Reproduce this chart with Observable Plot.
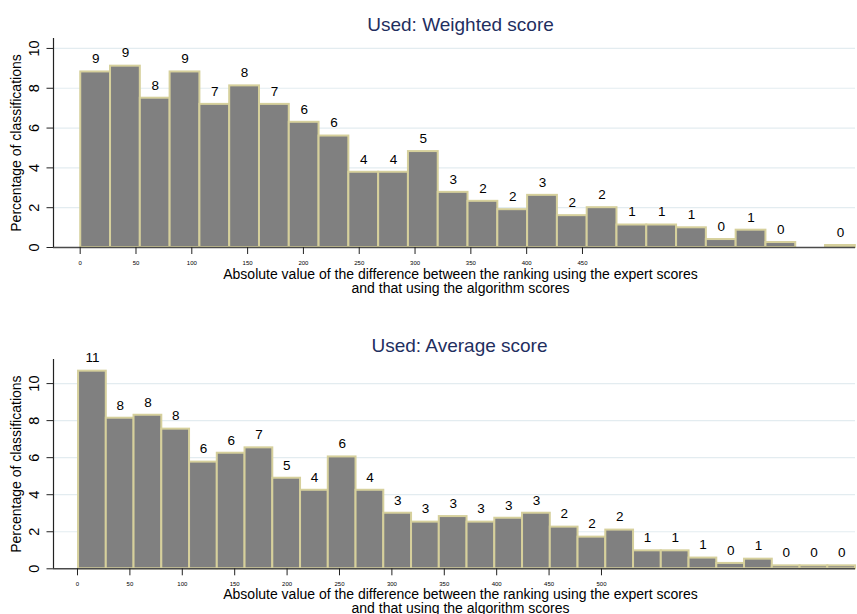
<!DOCTYPE html>
<html>
<head>
<meta charset="utf-8">
<script src="https://cdn.jsdelivr.net/npm/d3@7"></script>
<script src="https://cdn.jsdelivr.net/npm/@observablehq/plot@0.6"></script>
<style>
  body { margin: 0; background: #fff; }
  svg { display: block; }
</style>
</head>
<body>
<div id="top"></div>
<div id="bottom"></div>
<script>
// ---- Data ----
const weightedTitle = "Used: Weighted score";
const averageTitle = "Used: Average score";
const yLabel = "Percentage of classifications";
const xLabel = "Absolute value of the difference between the ranking using the expert scores\nand that using the algorithm scores";

// percentage of classifications per bin (null = empty bin)
const weightedPct = [8.82, 9.11, 7.50, 8.82, 7.19, 8.12, 7.19, 6.29, 5.60, 3.78, 3.78, 4.82, 2.77, 2.32, 1.90, 2.62, 1.60, 2.00, 1.13, 1.13, 0.99, 0.40, 0.87, 0.25, null, 0.10];
const averagePct = [10.67, 8.13, 8.29, 7.54, 5.76, 6.24, 6.53, 4.89, 4.24, 6.04, 4.24, 3.00, 2.52, 2.82, 2.52, 2.73, 3.00, 2.25, 1.71, 2.09, 0.97, 0.97, 0.58, 0.29, 0.52, 0.16, 0.16, 0.16];

// histogram bin definition (data units)
const weightedBinStart = 0.5, weightedBinWidth = 26.69;
const averageBinStart = 1.0, averageBinWidth = 26.48;

const weightedXTicks = [0, 50, 100, 150, 200, 250, 300, 350, 400, 450];
const averageXTicks = [0, 50, 100, 150, 200, 250, 300, 350, 400, 450, 500];
const yTicks = [0, 2, 4, 6, 8, 10];
const gridTicks = [2, 4, 6, 8, 10];

function bins(pct, start, width) {
  return pct.map((v, i) => ({x1: start + i * width, x2: start + (i + 1) * width, v}))
            .filter(d => d.v != null);
}

function panel({title, pct, start, width, xDomain, yMax, xTicks, height, marginTop, marginBottom, titleDx, titleDy, xLabelDy}) {
  const data = bins(pct, start, width);
  return Plot.plot({
    width: 857,
    height,
    marginLeft: 53,
    marginRight: 2,
    marginTop,
    marginBottom,
    style: {fontFamily: "'Liberation Sans', Arial, sans-serif", color: "#000", background: "#fff", overflow: "visible"},
    x: {domain: xDomain},
    y: {domain: [0, yMax]},
    marks: [
      Plot.gridY(gridTicks, {stroke: "#e3ecf0", strokeOpacity: 1, strokeWidth: 1.2}),
      Plot.rectY(data, {x1: "x1", x2: "x2", y: "v", fill: "#808080", stroke: "#d6d09c", strokeWidth: 2}),
      Plot.ruleY([0], {stroke: "#4a4a4a", strokeWidth: 1.6}),
      Plot.ruleX([xDomain[0]], {y1: 0, y2: yMax, stroke: "#222", strokeWidth: 1.2}),
      Plot.axisY({ticks: yTicks, tickSize: 6.5, tickFormat: () => "", label: null, stroke: "#222"}),
      Plot.text(yTicks, {y: d => d, text: d => String(d), frameAnchor: "left", rotate: -90, dx: -19.5, fontSize: 14.5, textAnchor: "middle", lineAnchor: "middle"}),
      Plot.axisX({ticks: xTicks, tickSize: 7, tickPadding: 6, fontSize: 6, label: null, stroke: "#222"}),
      Plot.text(data, {x: d => (d.x1 + d.x2) / 2, y: "v", text: d => String(Math.round(d.v)), dy: -13, fontSize: 13.5, lineAnchor: "middle"}),
      Plot.text([title], {text: d => d, frameAnchor: "top", dx: titleDx, dy: titleDy, lineAnchor: "bottom", fontSize: 19, fill: "#1f2f5f"}),
      Plot.text([yLabel], {text: d => d, frameAnchor: "left", rotate: -90, dx: -36.5, fontSize: 14, textAnchor: "middle", lineAnchor: "middle"}),
      Plot.text([xLabel], {text: d => d, frameAnchor: "bottom", dx: 6, dy: xLabelDy, lineAnchor: "bottom", fontSize: 14, lineHeight: 1})
    ]
  });
}

document.getElementById("top").append(panel({
  title: weightedTitle, pct: weightedPct, start: weightedBinStart, width: weightedBinWidth,
  xDomain: [-23.9, 694.6], yMax: 10.5, xTicks: weightedXTicks,
  height: 305, marginTop: 38, marginBottom: 58, titleDx: 6, titleDy: -8, xLabelDy: 45.3
}));
document.getElementById("bottom").append(panel({
  title: averageTitle, pct: averagePct, start: averageBinStart, width: averageBinWidth,
  xDomain: [-22.9, 742.4], yMax: 11.3, xTicks: averageXTicks,
  height: 309, marginTop: 54, marginBottom: 45.7, titleDx: 5, titleDy: -7.3, xLabelDy: 44.4
}));
</script>
</body>
</html>
